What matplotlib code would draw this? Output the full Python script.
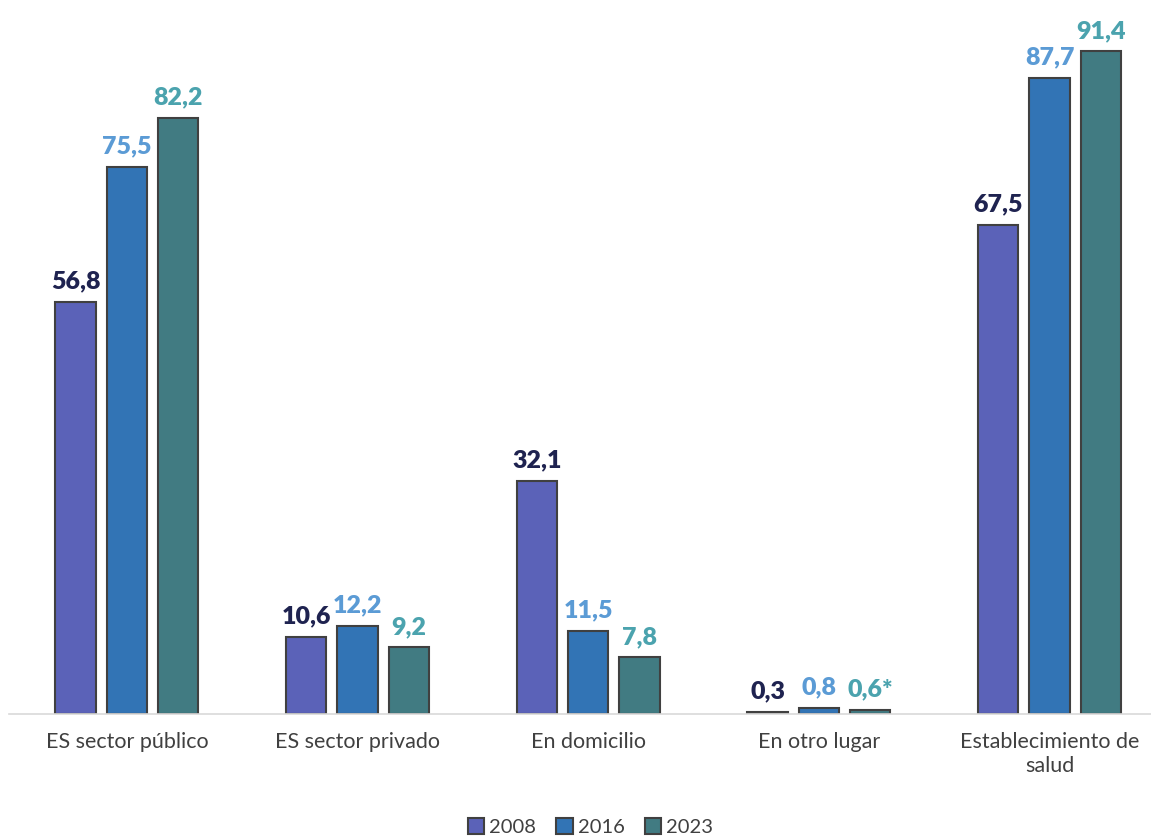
import numpy as np
import matplotlib
matplotlib.use("Agg")
import matplotlib.pyplot as plt
from matplotlib.patches import Patch

plt.rcParams["font.family"] = ["Lato", "DejaVu Sans"]

categories = ["ES sector público", "ES sector privado", "En domicilio",
              "En otro lugar", "Establecimiento de\nsalud"]
years = ["2008", "2016", "2023"]
v2008 = [56.8, 10.6, 32.1, 0.3, 67.5]
v2016 = [75.5, 12.2, 11.5, 0.8, 87.7]
v2023 = [82.2, 9.2, 7.8, 0.6, 91.4]
labels2023 = ["82,2", "9,2", "7,8", "0,6*", "91,4"]

bar_colors = ["#5B62B8", "#3274B5", "#417B82"]
text_colors = ["#1F2350", "#5B9BD5", "#4BA3AE"]

fig = plt.figure(figsize=(11.51, 8.38), dpi=100)
ax = fig.add_axes([0.008, 0.148, 0.992, 0.828])

x = np.arange(len(categories))
w = 0.175
off = 0.222
series = [v2008, v2016, v2023]
for i, vals in enumerate(series):
    xs = x + (i - 1) * off
    ax.bar(xs, vals, width=w, color=bar_colors[i], edgecolor="#404040",
           linewidth=1.5, zorder=2)
    for j, (xx, v) in enumerate(zip(xs, vals)):
        if i == 2:
            lab = labels2023[j]
        else:
            lab = f"{v:.1f}".replace(".", ",")
        ax.text(xx, v + 1.3, lab, ha="center", va="bottom", fontsize=18,
                fontweight="heavy", color=text_colors[i])

ax.set_xlim(-0.51, 4.44)
ax.set_ylim(0, 95.7)
ax.set_yticks([])
ax.set_xticks(x)
ax.set_xticklabels(categories, fontsize=15.5, color="#404040", linespacing=1.25)
ax.tick_params(axis="x", length=0, pad=13)
for s in ["top", "right", "left"]:
    ax.spines[s].set_visible(False)
ax.spines["bottom"].set_color("#D9D9D9")
ax.spines["bottom"].set_linewidth(1.2)

handles = [Patch(facecolor=c, edgecolor="#404040", linewidth=1.5) for c in bar_colors]
fig.legend(handles, years, loc="center", bbox_to_anchor=(0.513, 0.013),
           ncol=3, frameon=False, fontsize=14.5, handlelength=0.8, handleheight=0.8,
           handletextpad=0.25, columnspacing=1.0, labelcolor="#404040")

fig.savefig("out.png", dpi=100)
